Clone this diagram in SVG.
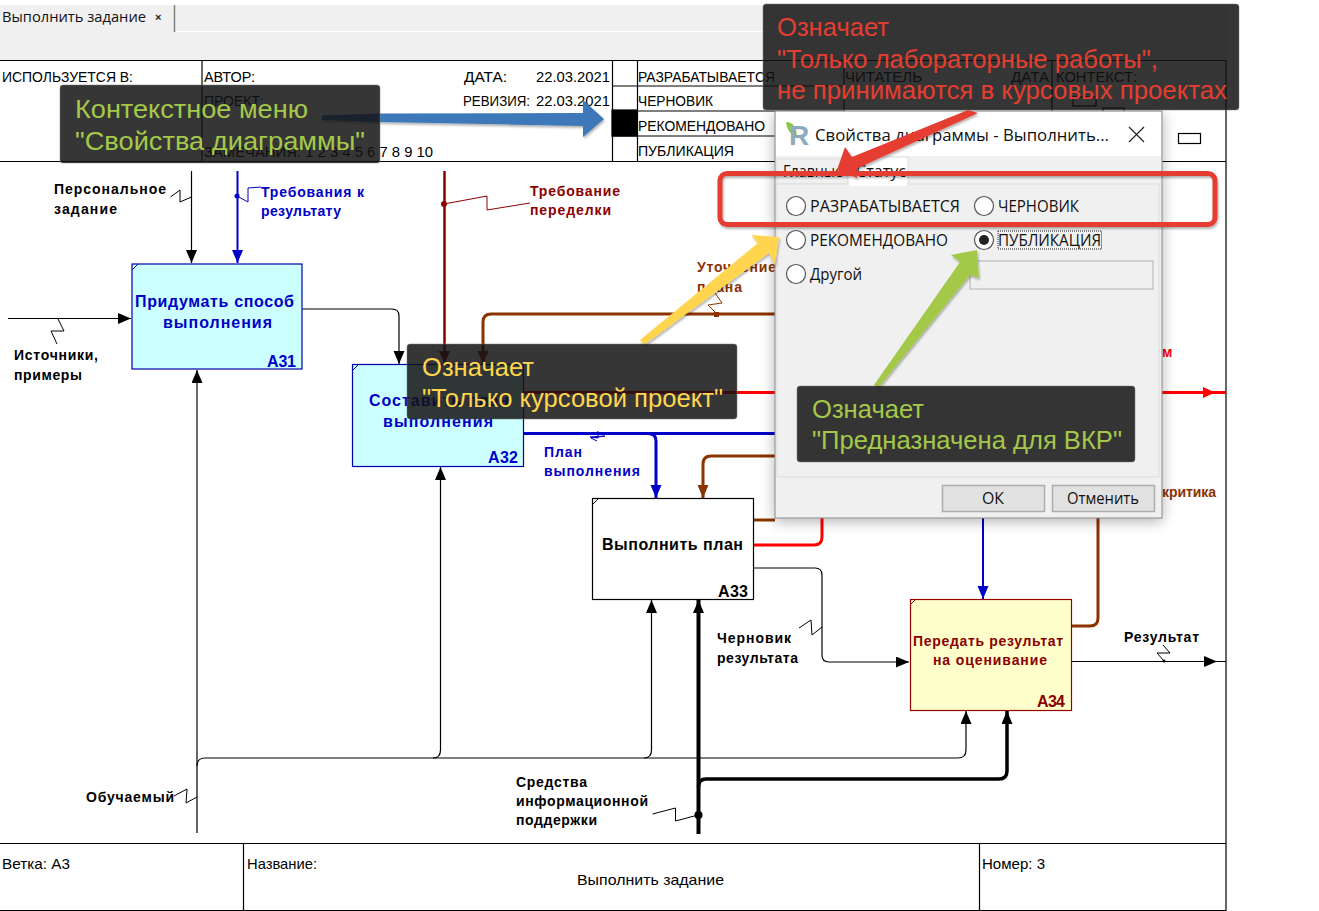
<svg xmlns="http://www.w3.org/2000/svg" width="1319" height="911" viewBox="0 0 1319 911">
<style>
text{font-family:"Liberation Sans",Arial,sans-serif}
.h{font-size:15px;fill:#000}
.l{font-size:14px;font-weight:bold}
.bk{fill:#000}.bl{fill:#0000c8}.dr{fill:#8b0000}.br{fill:#8b3300}.rd{fill:#f00}
.c{text-anchor:middle}
.n{font-size:16px;font-weight:bold}
.id{font-size:16px;font-weight:bold}
.f{fill:none;stroke:#000;stroke-width:1.2}
.s{fill:none;stroke-width:1}
.call{fill:#131313;fill-opacity:.85;stroke:#777;stroke-width:.5}
.ct{font-size:26px}
.d{font-family:"Open Sans","Noto Sans",sans-serif;font-size:16px;fill:#111}
.r{fill:#fff;stroke:#555;stroke-width:1.2}
.btn{fill:#e1e1e1;stroke:#adadad;stroke-width:1.5}
</style>
<defs>
<marker id="ak" markerUnits="userSpaceOnUse" markerWidth="14" markerHeight="12" refX="13" refY="5.500" orient="auto"><path d="M0 0L13 5.500L0 11Z" fill="#000"/></marker>
<marker id="ab" markerUnits="userSpaceOnUse" markerWidth="14" markerHeight="12" refX="13" refY="5.500" orient="auto"><path d="M0 0L13 5.500L0 11Z" fill="#0000c8"/></marker>
<marker id="ad" markerUnits="userSpaceOnUse" markerWidth="14" markerHeight="12" refX="13" refY="5.500" orient="auto"><path d="M0 0L13 5.500L0 11Z" fill="#8b0000"/></marker>
<marker id="ao" markerUnits="userSpaceOnUse" markerWidth="14" markerHeight="12" refX="13" refY="5.500" orient="auto"><path d="M0 0L13 5.500L0 11Z" fill="#8b3300"/></marker>
<filter id="sh" x="-10%" y="-10%" width="120%" height="120%"><feDropShadow dx="0" dy="3" stdDeviation="7" flood-color="#000" flood-opacity=".3"/></filter>
<filter id="ash" x="-10%" y="-30%" width="120%" height="160%"><feDropShadow dx="1" dy="2" stdDeviation="1" flood-color="#000" flood-opacity=".3"/></filter>
</defs>
<rect width="1319" height="911" fill="#fff"/>
<g id="tabbar">
<rect x="0" y="5" width="1226" height="55" fill="#f0f0f0"/>
<path d="M174 31.500H1226" stroke="#fff" stroke-width="1"/>
<path d="M174.500 5V32" stroke="#808080" stroke-width="1.500"/>
<text x="2" y="22" style="font-family:'Open Sans','Noto Sans',sans-serif;font-size:15px" fill="#111" textLength="144" lengthAdjust="spacingAndGlyphs">Выполнить задание</text>
<text x="155" y="21" font-size="11" font-weight="bold" fill="#222">×</text>
</g>
<g id="frame" fill="none" stroke="#000" stroke-width="1.200">
<path d="M0 60.500H1226M0 161.500H1226M1226 60V911M202 60V161M612.500 60V161M637.500 60V161M844 60V161M1052 60V161M612 86H844M612 111H844M612 136H844M0 843.500H1226M0 910.500H1226M243.500 843V910M979.500 843V910"/>
<rect x="612" y="110" width="25" height="26" fill="#000"/>
<rect x="1178.500" y="133.500" width="22" height="10"/>
<rect x="1073" y="97" width="23" height="9"/>
<rect x="1103" y="108" width="21" height="8"/>
</g>
<g id="frame-text">
<text class="h" x="2" y="82" textLength="131" lengthAdjust="spacingAndGlyphs">ИСПОЛЬЗУЕТСЯ В:</text>
<text class="h" x="204" y="82" textLength="51" lengthAdjust="spacingAndGlyphs">АВТОР:</text>
<text class="h" x="464" y="82" textLength="43" lengthAdjust="spacingAndGlyphs">ДАТА:</text>
<text class="h" x="536" y="82" textLength="74" lengthAdjust="spacingAndGlyphs">22.03.2021</text>
<text class="h" x="204" y="106" textLength="60" lengthAdjust="spacingAndGlyphs">ПРОЕКТ:</text>
<text class="h" x="463" y="106" textLength="67" lengthAdjust="spacingAndGlyphs">РЕВИЗИЯ:</text>
<text class="h" x="536" y="106" textLength="74" lengthAdjust="spacingAndGlyphs">22.03.2021</text>
<text class="h" x="204" y="157" textLength="229" lengthAdjust="spacingAndGlyphs">ЗАМЕЧАНИЯ: 1 2 3 4 5 6 7 8 9 10</text>
<text class="h" x="638" y="82" textLength="137" lengthAdjust="spacingAndGlyphs">РАЗРАБАТЫВАЕТСЯ</text>
<text class="h" x="638" y="106" textLength="75" lengthAdjust="spacingAndGlyphs">ЧЕРНОВИК</text>
<text class="h" x="638" y="131" textLength="127" lengthAdjust="spacingAndGlyphs">РЕКОМЕНДОВАНО</text>
<text class="h" x="638" y="156" textLength="96" lengthAdjust="spacingAndGlyphs">ПУБЛИКАЦИЯ</text>
<text class="h" x="845" y="82" textLength="77" lengthAdjust="spacingAndGlyphs">ЧИТАТЕЛЬ</text>
<text class="h" x="1011" y="82" textLength="38" lengthAdjust="spacingAndGlyphs">ДАТА</text>
<text class="h" x="1056" y="82" textLength="81" lengthAdjust="spacingAndGlyphs">КОНТЕКСТ:</text>
<text class="h" x="2" y="869" textLength="68" lengthAdjust="spacingAndGlyphs">Ветка: А3</text>
<text class="h" x="247" y="869" textLength="70" lengthAdjust="spacingAndGlyphs">Название:</text>
<text class="h" x="577" y="885" textLength="147" lengthAdjust="spacingAndGlyphs">Выполнить задание</text>
<text class="h" x="982" y="869" textLength="63" lengthAdjust="spacingAndGlyphs">Номер: 3</text>
</g>
<g id="connectors" fill="none">
<path class="f" d="M191.500 171V263" marker-end="url(#ak)"/>
<path d="M237.500 171V263" stroke="#0000c8" stroke-width="2" marker-end="url(#ab)"/>
<path d="M444.500 171V364" stroke="#8b0000" stroke-width="2.500" marker-end="url(#ad)"/>
<path class="f" d="M8 318.500H131" marker-end="url(#ak)"/>
<path class="f" d="M302 309H392Q399 309 399 316V364" marker-end="url(#ak)"/>
<path d="M775 314H491Q483 314 483 322V364" stroke="#8b3300" stroke-width="3" marker-end="url(#ao)"/>
<path d="M523 392.500H1226" stroke="#f00" stroke-width="3"/>
<path d="M1203 387L1215 392.500L1203 398Z" fill="#f00"/>
<path d="M523 433.500H775" stroke="#0000c8" stroke-width="3"/>
<path d="M648 433.500Q656 433.500 656 441V498" stroke="#0000c8" stroke-width="3" marker-end="url(#ab)"/>
<path d="M775 456H711Q703 456 703 464V498" stroke="#8b3300" stroke-width="3" marker-end="url(#ao)"/>
<path d="M753 520H775" stroke="#8b3300" stroke-width="3"/>
<path d="M753 545H814Q822 545 822 537V518" stroke="#f00" stroke-width="3"/>
<path class="f" d="M753 568H815Q822 568 822 575V655Q822 662 829 662H909" marker-end="url(#ak)"/>
<path d="M983 518V599" stroke="#0000c8" stroke-width="2" marker-end="url(#ab)"/>
<path d="M1072 626H1090Q1098 626 1098 618V518" stroke="#8b3300" stroke-width="3"/>
<path class="f" d="M1072 661.500H1226"/>
<path d="M1204 656L1217 661.500L1204 667Z" fill="#000"/>
<path class="f" d="M197 833V766Q197 758 205 758H958Q966 758 966 750V711" marker-end="url(#ak)"/>
<path class="f" d="M197 766V370" marker-end="url(#ak)"/>
<path class="f" d="M433 758Q440.500 758 440.500 750V467" marker-end="url(#ak)"/>
<path class="f" d="M644 758Q651.500 758 651.500 750V600" marker-end="url(#ak)"/>
<path d="M698.500 834V600" stroke="#000" stroke-width="4" marker-end="url(#ak)"/>
<path d="M698.500 787Q698.500 779 706 779H999Q1007 779 1007 771V711" stroke="#000" stroke-width="3.500" marker-end="url(#ak)"/>
<path class="s" stroke="#000" d="M170.500 197L180 190V202L191.500 197"/>
<path class="s" stroke="#0000c8" d="M237 196L248 202V188L261 187"/>
<path class="s" stroke="#8b0000" d="M444 204L487 196V210L530 203"/>
<path class="s" stroke="#000" d="M58 319L64 331H51L57 344"/>
<path class="s" stroke="#8b3300" d="M716 313L708 305L722 303L715 293"/>
<path class="s" stroke="#0000c8" d="M598 431V438L590 437L605 436L591 438L597 441"/>
<path class="s" stroke="#000" d="M799 628L811 620L812 635L822 627"/>
<path class="s" stroke="#000" d="M1164 661L1157 653L1170 653L1163 645"/>
<path class="s" stroke="#000" d="M174 796L187 789L186 803L197 797"/>
<path class="s" stroke="#000" d="M652.500 814L675.500 808V821L698 815"/>
<circle cx="237" cy="196" r="2.500" fill="#0000c8"/>
<circle cx="444" cy="204" r="3" fill="#8b0000"/>
<rect x="714" y="312" width="5" height="5" fill="#8b3300"/>
<circle cx="698.500" cy="815" r="4" fill="#000"/>
<circle cx="1164" cy="661" r="1.500" fill="#000"/>
</g>
<g id="labels">
<g class="l bk"><text x="54" y="194" textLength="112">Персональное</text><text x="54" y="214" textLength="63">задание</text></g>
<g class="l bl"><text x="261" y="197" textLength="103">Требования к</text><text x="261" y="216" textLength="80">результату</text></g>
<g class="l dr"><text x="530" y="196" textLength="90">Требование</text><text x="530" y="215" textLength="81">переделки</text></g>
<g class="l bk"><text x="14" y="360" textLength="84">Источники,</text><text x="14" y="380" textLength="68">примеры</text></g>
<g class="l br"><text x="697" y="272" textLength="79">Уточнение</text><text x="697" y="292" textLength="45">плана</text></g>
<g class="l bl"><text x="544" y="457" textLength="38">План</text><text x="544" y="476" textLength="96">выполнения</text></g>
<g class="l bk"><text x="717" y="643" textLength="74">Черновик</text><text x="717" y="663" textLength="81">результата</text></g>
<g class="l bk"><text x="1124" y="642" textLength="75">Результат</text></g>
<g class="l bk"><text x="516" y="787" textLength="71">Средства</text><text x="516" y="806" textLength="132">информационной</text><text x="516" y="825" textLength="81">поддержки</text></g>
<g class="l bk"><text x="86" y="802" textLength="88">Обучаемый</text></g>
</g>
<g id="A31">
<rect x="132" y="264" width="170" height="105" fill="#ccffff" stroke="#0000b0" stroke-width="1.200"/>
<path d="M132 270L138 264" stroke="#0000b0"/>
<text class="n bl" x="135" y="307" textLength="159">Придумать способ</text>
<text class="n bl" x="163" y="328" textLength="109">выполнения</text>
<text class="id bl" x="267" y="367" textLength="29">А31</text>
</g>
<g id="A32">
<rect x="352.500" y="364.500" width="171" height="102" fill="#ccffff" stroke="#0000b0" stroke-width="1.200"/>
<path d="M353 370L359 364" stroke="#0000b0"/>
<text class="n bl" x="369" y="406" textLength="140">Составить план</text>
<text class="n bl" x="383" y="427" textLength="110">выполнения</text>
<text class="id bl" x="488" y="463" textLength="30">А32</text>
</g>
<g id="A33">
<rect x="592.500" y="498.500" width="161" height="101" fill="#fff" stroke="#000" stroke-width="1.200"/>
<path d="M593 504L599 498" stroke="#000"/>
<text class="n bk" x="602" y="550" textLength="141">Выполнить план</text>
<text class="id bk" x="718" y="597" textLength="30">А33</text>
</g>
<g id="A34">
<rect x="910.500" y="599.500" width="161" height="111" fill="#ffffcc" stroke="#990000" stroke-width="1.200"/>
<path d="M910 605L916 599" stroke="#990000"/>
<text class="l dr" x="913" y="646" textLength="150">Передать результат</text>
<text class="l dr" x="933" y="665" textLength="114">на оценивание</text>
<text class="id dr" x="1037" y="707" textLength="28">А34</text>
</g>
<g id="hidden-labels">
<text class="l rd" x="1162" y="357" textLength="11">м</text>
<text class="l br" x="1162" y="497" textLength="54">критика</text>
</g>
<g id="dialog">
<rect x="775" y="111" width="387" height="407" fill="#f0f0f0" stroke="#888" stroke-width="1" filter="url(#sh)"/>
<rect x="776" y="112" width="385" height="44" fill="#fff"/>
<path d="M786 122Q796 122 797 136Q787 134 786 122Z" fill="#8cc63f"/>
<text x="789" y="145" font-size="28" font-weight="bold" fill="#8eabbd">R</text>
<text class="d" x="815" y="141" style="font-size:17px" textLength="294" lengthAdjust="spacingAndGlyphs">Свойства диаграммы - Выполнить...</text>
<path d="M1129 127L1144 142M1144 127L1129 142" stroke="#222" stroke-width="1.200"/>
<rect x="777" y="159" width="71" height="25" fill="#f0f0f0" stroke="#ddd"/>
<rect x="848" y="157" width="60" height="28" fill="#fff" stroke="#ddd"/>
<rect x="777" y="184" width="382" height="293" fill="#f0f0f0" stroke="#ddd"/>
<rect x="849" y="183" width="58" height="3" fill="#fff"/>
<text class="d" x="783" y="177" textLength="60" lengthAdjust="spacingAndGlyphs">Главные</text>
<text class="d" x="856" y="177" textLength="50" lengthAdjust="spacingAndGlyphs">Статус</text>
<circle class="r" cx="796" cy="206" r="9.500"/><circle class="r" cx="984" cy="206" r="9.500"/>
<circle class="r" cx="796" cy="240" r="9.500"/><circle class="r" cx="984" cy="240" r="9.500"/>
<circle cx="984" cy="240" r="5" fill="#222"/>
<circle class="r" cx="796" cy="274" r="9.500"/>
<text class="d" x="810" y="212" textLength="150" lengthAdjust="spacingAndGlyphs">РАЗРАБАТЫВАЕТСЯ</text>
<text class="d" x="998" y="212" textLength="81" lengthAdjust="spacingAndGlyphs">ЧЕРНОВИК</text>
<text class="d" x="810" y="246" textLength="138" lengthAdjust="spacingAndGlyphs">РЕКОМЕНДОВАНО</text>
<text class="d" x="998" y="246" textLength="103" lengthAdjust="spacingAndGlyphs">ПУБЛИКАЦИЯ</text>
<text class="d" x="810" y="280" textLength="52" lengthAdjust="spacingAndGlyphs">Другой</text>
<rect x="998" y="231" width="103.500" height="18" fill="none" stroke="#222" stroke-width="1" stroke-dasharray="1 1"/>
<rect x="970" y="261" width="183" height="28" fill="#f0f0f0" stroke="#bbb" stroke-width="1.200"/>
<rect class="btn" x="942.500" y="485.500" width="102" height="26"/>
<rect class="btn" x="1052.500" y="485.500" width="102" height="26"/>
<text class="d" x="982" y="504" textLength="22" lengthAdjust="spacingAndGlyphs">ОК</text>
<text class="d" x="1067" y="504" textLength="72" lengthAdjust="spacingAndGlyphs">Отменить</text>
</g>
<g id="annotation-arrows" filter="url(#ash)">
<path d="M322 115.500L380 113.500L583 113V100L604 119L583 137V126L380 122L322 120Z" fill="#3c78b8"/>
<path d="M968 110L978 113L858 168L857 178L837 170L845 147L852 157Z" fill="#e53e30"/>
<path d="M640 340L644 345L769 253L775 265L779 237L751.500 235L758 243Z" fill="#ffd54f"/>
<path d="M874 385L878 388L970 275L979 278L977 250L951 255L960 262Z" fill="#a4c94a"/>
<rect x="720" y="173.500" width="495" height="51" rx="7" fill="none" stroke="#e53e30" stroke-width="5"/>
</g>
<g id="callout-context">
<rect class="call" x="60" y="85" width="320" height="78" rx="3"/>
<text class="ct" x="75" y="118" fill="#a4c94a" textLength="233" lengthAdjust="spacingAndGlyphs">Контекстное меню</text>
<text class="ct" x="75" y="150" fill="#a4c94a" textLength="290" lengthAdjust="spacingAndGlyphs">"Свойства диаграммы"</text>
</g>
<g id="callout-lab">
<rect class="call" x="763" y="4" width="476" height="106" rx="3"/>
<text class="ct" x="777" y="36" fill="#e53e30" textLength="112" lengthAdjust="spacingAndGlyphs">Означает</text>
<text class="ct" x="777" y="68" fill="#e53e30" textLength="381" lengthAdjust="spacingAndGlyphs">"Только лабораторные работы",</text>
<text class="ct" x="777" y="99" fill="#e53e30" textLength="450" lengthAdjust="spacingAndGlyphs">не принимаются в курсовых проектах</text>
</g>
<g id="callout-course">
<rect class="call" x="407" y="344" width="330" height="75" rx="3"/>
<text class="ct" x="422" y="376" fill="#ffd54f" textLength="112" lengthAdjust="spacingAndGlyphs">Означает</text>
<text class="ct" x="422" y="407" fill="#ffd54f" textLength="301" lengthAdjust="spacingAndGlyphs">"Только курсовой проект"</text>
</g>
<g id="callout-vkr">
<rect class="call" x="797" y="386" width="338" height="76" rx="3"/>
<text class="ct" x="812" y="418" fill="#a4c94a" textLength="112" lengthAdjust="spacingAndGlyphs">Означает</text>
<text class="ct" x="812" y="449" fill="#a4c94a" textLength="310" lengthAdjust="spacingAndGlyphs">"Предназначена для ВКР"</text>
</g>
</svg>
